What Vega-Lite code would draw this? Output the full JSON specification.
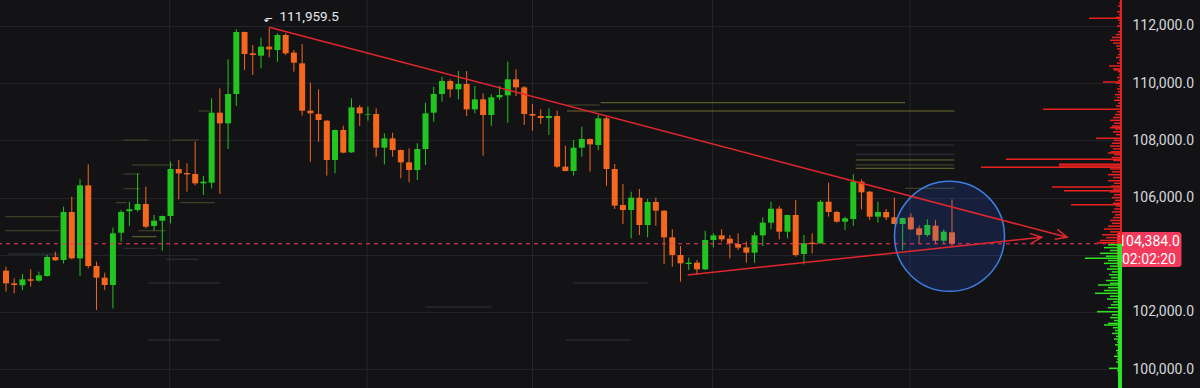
{
  "$schema": "https://vega.github.io/schema/vega-lite/v6.json",
  "width": 1122,
  "height": 388,
  "autosize": {"type": "none"},
  "padding": {"left": 0, "top": 0, "right": 78, "bottom": 0},
  "background": "#131316",
  "config": {"view": {"stroke": null}, "font": "Roboto"},
  "resolve": {"scale": {"x": "independent"}},
  "layer": [
    {
      "layer": [
        {
          "data": {"values": [{"t": 20.9}, {"t": 44.9}, {"t": 65}, {"t": 86.9}, {"t": 110.9}]},
          "mark": {"type": "rule", "color": "#25272c", "strokeWidth": 1},
          "encoding": {"x": {"field": "t", "type": "quantitative", "scale": {"domain": [0.88, 136.06], "nice": false, "zero": false}, "axis": null}}
        },
        {
          "data": {"values": [
            {"p": 109318, "t1": 73.3, "t2": 110.3, "k": "o"},
            {"p": 109027, "t1": 69.2, "t2": 116.3, "k": "o"},
            {"p": 109237, "t1": 69.2, "t2": 73.2, "k": "d"},
            {"p": 107839, "t1": 104.3, "t2": 116.3, "k": "g"},
            {"p": 107513, "t1": 104.3, "t2": 116.3, "k": "g"},
            {"p": 107314, "t1": 104.3, "t2": 116.3, "k": "o"},
            {"p": 107139, "t1": 104.3, "t2": 116.3, "k": "d"},
            {"p": 107024, "t1": 104.3, "t2": 116.3, "k": "o"},
            {"p": 106325, "t1": 110.3, "t2": 116.3, "k": "d"},
            {"p": 108013, "t1": 15.3, "t2": 18.3, "k": "d"},
            {"p": 108013, "t1": 21.2, "t2": 24.4, "k": "d"},
            {"p": 107139, "t1": 16.3, "t2": 21.4, "k": "d"},
            {"p": 106824, "t1": 15.3, "t2": 17.3, "k": "d"},
            {"p": 106310, "t1": 15.3, "t2": 17.3, "k": "d"},
            {"p": 105821, "t1": 14.4, "t2": 15.7, "k": "d"},
            {"p": 105821, "t1": 22.2, "t2": 26.4, "k": "d"},
            {"p": 105331, "t1": 0.9, "t2": 7.5, "k": "d"},
            {"p": 104842, "t1": 0.9, "t2": 7.5, "k": "d"},
            {"p": 104842, "t1": 17.1, "t2": 20.4, "k": "d"},
            {"p": 104632, "t1": 16.3, "t2": 19.3, "k": "o"},
            {"p": 104226, "t1": 15.3, "t2": 19.3, "k": "g"},
            {"p": 103842, "t1": 20.4, "t2": 24.4, "k": "g"},
            {"p": 109027, "t1": 24.4, "t2": 25.8, "k": "d"},
            {"p": 103013, "t1": 70, "t2": 79, "k": "g"},
            {"p": 102174, "t1": 52, "t2": 60, "k": "g"},
            {"p": 101020, "t1": 69, "t2": 77, "k": "g"},
            {"p": 103013, "t1": 18.3, "t2": 27, "k": "g"},
            {"p": 101020, "t1": 18.3, "t2": 27, "k": "g"},
            {"p": 104027, "t1": 1.2, "t2": 7.5, "k": "g"}
          ]},
          "mark": {"type": "rule", "strokeWidth": 1},
          "encoding": {
            "x": {"field": "t1", "type": "quantitative", "scale": {"domain": [0.88, 136.06], "nice": false, "zero": false}, "axis": null},
            "x2": {"field": "t2"},
            "y": {"field": "p", "type": "quantitative", "scale": {"domain": [99341, 112909], "nice": false, "zero": false},
              "axis": {"orient": "right", "values": [100000, 102000, 104000, 106000, 108000, 110000, 112000], "format": ",.1f", "labelExpr": "datum.value == 104000 ? '' : datum.label", "grid": true, "gridColor": "#232429", "gridWidth": 1, "domain": false, "ticks": false, "labelPadding": 10, "labelFont": "Roboto", "labelFontSize": 14, "labelColor": "#D6D8DE", "title": null}},
            "color": {"field": "k", "type": "nominal", "scale": {"domain": ["o", "d", "g"], "range": ["#6e6c30", "#4a4a2a", "#33353b"]}, "legend": null}
          }
        },
        {
          "data": {"name": "candles", "values": [
            {"t":1,"o":103443,"h":103583,"l":102709,"c":103000},
            {"t":2,"o":103000,"h":103175,"l":102651,"c":102942},
            {"t":3,"o":102931,"h":103327,"l":102767,"c":103140},
            {"t":4,"o":103140,"h":103490,"l":102884,"c":103094},
            {"t":5,"o":103094,"h":103409,"l":103059,"c":103280},
            {"t":6,"o":103257,"h":103991,"l":103240,"c":103921},
            {"t":7,"o":103921,"h":104108,"l":103790,"c":103805},
            {"t":8,"o":103816,"h":105682,"l":103700,"c":105495},
            {"t":9,"o":105495,"h":106031,"l":103840,"c":103875},
            {"t":10,"o":103875,"h":106637,"l":103257,"c":106428},
            {"t":11,"o":106428,"h":107162,"l":103525,"c":103607},
            {"t":12,"o":103607,"h":103758,"l":102068,"c":103199},
            {"t":13,"o":103199,"h":103374,"l":102767,"c":102942},
            {"t":14,"o":102942,"h":104947,"l":102126,"c":104749},
            {"t":15,"o":104772,"h":105565,"l":104458,"c":105495},
            {"t":16,"o":105518,"h":105856,"l":105006,"c":105588},
            {"t":17,"o":105565,"h":106847,"l":105507,"c":105775},
            {"t":18,"o":105775,"h":106381,"l":104924,"c":104982},
            {"t":19,"o":105006,"h":105390,"l":104842,"c":105192},
            {"t":20,"o":105192,"h":105370,"l":104143,"c":105355},
            {"t":21,"o":105355,"h":107255,"l":105099,"c":106999},
            {"t":22,"o":106999,"h":107314,"l":105938,"c":106847},
            {"t":23,"o":106859,"h":107197,"l":106206,"c":106812},
            {"t":24,"o":106824,"h":107955,"l":106428,"c":106498},
            {"t":25,"o":106498,"h":106754,"l":106090,"c":106556},
            {"t":26,"o":106521,"h":109470,"l":106323,"c":108969},
            {"t":27,"o":108969,"h":109820,"l":106125,"c":108596},
            {"t":28,"o":108596,"h":110834,"l":107698,"c":109622},
            {"t":29,"o":109622,"h":111883,"l":109202,"c":111790},
            {"t":30,"o":111790,"h":111800,"l":110461,"c":111021},
            {"t":31,"o":111044,"h":111335,"l":110286,"c":110986},
            {"t":32,"o":110962,"h":111592,"l":110519,"c":111277},
            {"t":33,"o":111277,"h":111959.5,"l":110904,"c":111184},
            {"t":34,"o":111160,"h":111743,"l":110752,"c":111685},
            {"t":35,"o":111685,"h":111743,"l":110986,"c":111044},
            {"t":36,"o":111067,"h":111160,"l":110403,"c":110717},
            {"t":37,"o":110694,"h":111370,"l":108864,"c":109039},
            {"t":38,"o":109039,"h":110018,"l":107255,"c":108946},
            {"t":39,"o":108922,"h":109785,"l":107955,"c":108712},
            {"t":40,"o":108689,"h":108712,"l":106766,"c":107314},
            {"t":41,"o":107314,"h":108380,"l":106847,"c":108363},
            {"t":42,"o":108363,"h":108514,"l":107547,"c":107570},
            {"t":43,"o":107582,"h":109470,"l":107560,"c":109155},
            {"t":44,"o":109155,"h":109237,"l":108503,"c":108946},
            {"t":45,"o":108887,"h":109179,"l":108689,"c":108911},
            {"t":46,"o":108922,"h":109120,"l":107430,"c":107745},
            {"t":47,"o":107745,"h":108246,"l":107162,"c":108071},
            {"t":48,"o":108071,"h":108269,"l":107430,"c":107663},
            {"t":49,"o":107663,"h":107680,"l":106672,"c":107232},
            {"t":50,"o":107232,"h":107722,"l":106533,"c":106964},
            {"t":51,"o":106964,"h":107896,"l":106614,"c":107698},
            {"t":52,"o":107698,"h":109319,"l":107139,"c":108946},
            {"t":53,"o":108969,"h":109878,"l":108654,"c":109622},
            {"t":54,"o":109622,"h":110228,"l":109354,"c":110076},
            {"t":55,"o":110076,"h":110135,"l":109505,"c":109785},
            {"t":56,"o":109785,"h":110426,"l":109435,"c":109971},
            {"t":57,"o":109971,"h":110426,"l":108852,"c":109085},
            {"t":58,"o":109085,"h":109901,"l":108946,"c":109435},
            {"t":59,"o":109435,"h":109645,"l":107465,"c":108887},
            {"t":60,"o":108887,"h":109610,"l":108503,"c":109505},
            {"t":61,"o":109505,"h":109901,"l":109412,"c":109587},
            {"t":62,"o":109575,"h":110752,"l":108619,"c":110135},
            {"t":63,"o":110135,"h":110484,"l":109552,"c":109855},
            {"t":64,"o":109855,"h":109901,"l":108538,"c":108922},
            {"t":65,"o":108922,"h":109272,"l":108339,"c":108864},
            {"t":66,"o":108852,"h":109085,"l":108573,"c":108782},
            {"t":67,"o":108782,"h":109120,"l":108188,"c":108852},
            {"t":68,"o":108852,"h":109039,"l":107045,"c":107080},
            {"t":69,"o":107080,"h":107815,"l":106920,"c":106929},
            {"t":70,"o":106929,"h":108013,"l":106766,"c":107745},
            {"t":71,"o":107745,"h":108479,"l":107430,"c":108048},
            {"t":72,"o":108048,"h":108070,"l":106906,"c":107861},
            {"t":73,"o":107838,"h":108887,"l":107663,"c":108771},
            {"t":74,"o":108771,"h":108829,"l":106416,"c":106999},
            {"t":75,"o":106999,"h":107174,"l":105600,"c":105717},
            {"t":76,"o":105740,"h":106474,"l":105075,"c":105565},
            {"t":77,"o":105565,"h":106206,"l":104574,"c":105996},
            {"t":78,"o":105996,"h":106299,"l":104691,"c":105040},
            {"t":79,"o":105040,"h":105950,"l":104609,"c":105845},
            {"t":80,"o":105845,"h":105996,"l":105017,"c":105542},
            {"t":81,"o":105542,"h":105565,"l":103677,"c":104609},
            {"t":82,"o":104609,"h":104889,"l":103583,"c":103991},
            {"t":83,"o":103991,"h":104306,"l":103059,"c":103700},
            {"t":84,"o":103677,"h":103898,"l":103467,"c":103723},
            {"t":85,"o":103723,"h":103816,"l":103292,"c":103490},
            {"t":86,"o":103490,"h":104842,"l":103467,"c":104516},
            {"t":87,"o":104516,"h":104749,"l":104259,"c":104679},
            {"t":88,"o":104679,"h":104889,"l":104458,"c":104539},
            {"t":89,"o":104563,"h":104691,"l":103875,"c":104399},
            {"t":90,"o":104376,"h":104749,"l":104166,"c":104248},
            {"t":91,"o":104259,"h":104458,"l":103723,"c":104073},
            {"t":92,"o":104073,"h":104784,"l":103723,"c":104679},
            {"t":93,"o":104679,"h":105309,"l":104306,"c":105122},
            {"t":94,"o":105122,"h":105856,"l":104889,"c":105612},
            {"t":95,"o":105612,"h":105705,"l":104539,"c":104807},
            {"t":96,"o":104807,"h":105400,"l":104574,"c":105390},
            {"t":97,"o":105390,"h":105915,"l":103933,"c":103991},
            {"t":98,"o":104026,"h":104691,"l":103665,"c":104399},
            {"t":99,"o":104423,"h":104749,"l":104050,"c":104376},
            {"t":100,"o":104399,"h":105915,"l":104390,"c":105856},
            {"t":101,"o":105856,"h":106521,"l":105332,"c":105495},
            {"t":102,"o":105495,"h":105530,"l":105122,"c":105157},
            {"t":103,"o":105157,"h":105332,"l":104866,"c":105274},
            {"t":104,"o":105250,"h":106812,"l":105006,"c":106556},
            {"t":105,"o":106556,"h":106637,"l":105588,"c":106183},
            {"t":106,"o":106206,"h":106230,"l":105215,"c":105332},
            {"t":107,"o":105332,"h":105856,"l":105122,"c":105495},
            {"t":108,"o":105495,"h":105600,"l":105215,"c":105309},
            {"t":109,"o":105309,"h":105996,"l":105060,"c":105075},
            {"t":110,"o":105075,"h":105300,"l":104166,"c":105285},
            {"t":111,"o":105309,"h":105448,"l":104866,"c":104889},
            {"t":112,"o":104924,"h":105029,"l":104399,"c":104691},
            {"t":113,"o":104691,"h":105239,"l":104632,"c":105040},
            {"t":114,"o":105017,"h":105215,"l":104399,"c":104493},
            {"t":115,"o":104493,"h":104889,"l":104399,"c":104807},
            {"t":116,"o":104784,"h":105938,"l":104283,"c":104384}
          ]},
          "layer": [
            {
              "mark": {"type": "rule", "strokeWidth": 1},
              "encoding": {
                "x": {"field": "t", "type": "quantitative", "scale": {"domain": [0.88, 136.06], "nice": false, "zero": false}, "axis": null},
                "y": {"field": "l", "type": "quantitative", "title": null},
                "y2": {"field": "h"},
                "color": {"condition": {"test": "datum.c >= datum.o", "value": "#22c51f"}, "value": "#f5661e"}
              }
            },
            {
              "mark": {"type": "bar", "size": 6},
              "encoding": {
                "x": {"field": "t", "type": "quantitative", "scale": {"domain": [0.88, 136.06], "nice": false, "zero": false}, "axis": null},
                "y": {"field": "o", "type": "quantitative", "title": null},
                "y2": {"field": "c"},
                "color": {"condition": {"test": "datum.c >= datum.o", "value": "#22c51f"}, "value": "#f5661e"}
              }
            }
          ]
        },
        {
          "data": {"values": [{"t": 115.7, "p": 104646}]},
          "mark": {"type": "point", "shape": "circle", "size": 12100, "filled": true, "fill": "#2962ff", "fillOpacity": 0.16, "stroke": "#3d7fe0", "strokeWidth": 1.5, "strokeOpacity": 1},
          "encoding": {
            "x": {"field": "t", "type": "quantitative", "scale": {"domain": [0.88, 136.06], "nice": false, "zero": false}, "axis": null},
            "y": {"field": "p", "type": "quantitative", "title": null}
          }
        },
        {
          "data": {"values": [{"last": 104384}]},
          "mark": {"type": "rule", "color": "#f23b5c", "strokeWidth": 1, "strokeDash": [4, 4]},
          "encoding": {"y": {"field": "last", "type": "quantitative", "title": null}}
        },
        {
          "data": {"values": [
            {"g": "u", "t": 33, "p": 111959.5},
            {"g": "u", "t": 130.0, "p": 104611},
            {"g": "l", "t": 83.86, "p": 103293},
            {"g": "l", "t": 126.9, "p": 104611}
          ]},
          "mark": {"type": "line", "color": "#e3262e", "strokeWidth": 1.5},
          "encoding": {
            "x": {"field": "t", "type": "quantitative", "scale": {"domain": [0.88, 136.06], "nice": false, "zero": false}, "axis": null},
            "y": {"field": "p", "type": "quantitative", "title": null},
            "detail": {"field": "g"}
          }
        },
        {
          "data": {"values": [{"t": 130.0, "p": 104611}]},
          "mark": {"type": "point", "shape": "M-1,-0.45L0,0L-1,0.45", "size": 520, "filled": false, "color": "#e3262e", "strokeWidth": 1.5, "opacity": 1, "angle": 15},
          "encoding": {
            "x": {"field": "t", "type": "quantitative", "scale": {"domain": [0.88, 136.06], "nice": false, "zero": false}, "axis": null},
            "y": {"field": "p", "type": "quantitative", "title": null}
          }
        },
        {
          "data": {"values": [{"t": 126.9, "p": 104611}]},
          "mark": {"type": "point", "shape": "M-1,-0.45L0,0L-1,0.45", "size": 520, "filled": false, "color": "#e3262e", "strokeWidth": 1.5, "opacity": 1, "angle": 354},
          "encoding": {
            "x": {"field": "t", "type": "quantitative", "scale": {"domain": [0.88, 136.06], "nice": false, "zero": false}, "axis": null},
            "y": {"field": "p", "type": "quantitative", "title": null}
          }
        },
        {
          "data": {"values": [{"hi": 111959.5}]},
          "mark": {"type": "text", "align": "left", "baseline": "middle", "font": "Roboto", "fontSize": 13.5, "color": "#e6e8ee"},
          "encoding": {
            "x": {"datum": 34.25, "type": "quantitative", "scale": {"domain": [0.88, 136.06], "nice": false, "zero": false}, "axis": null},
            "y": {"datum": 112315, "type": "quantitative"},
            "text": {"field": "hi", "type": "quantitative", "format": ",.1f"}
          }
        },
        {
          "data": {"values": [{"s": "⬐"}]},
          "mark": {"type": "text", "align": "center", "baseline": "middle", "font": "DejaVu Sans", "fontSize": 11, "color": "#e6e8ee"},
          "encoding": {
            "x": {"datum": 32.9, "type": "quantitative", "scale": {"domain": [0.88, 136.06], "nice": false, "zero": false}, "axis": null},
            "y": {"datum": 112230, "type": "quantitative"},
            "text": {"field": "s"}
          }
        },
        {
          "data": {"values": [{}]},
          "mark": {"type": "rect", "color": "#f23b5c", "cornerRadius": 3},
          "encoding": {
            "x": {"datum": 136.06, "type": "quantitative", "scale": {"domain": [0.88, 136.06], "nice": false, "zero": false}, "axis": null},
            "x2": {"datum": 143.9},
            "y": {"datum": 104796, "type": "quantitative"},
            "y2": {"datum": 103572}
          }
        },
        {
          "data": {"values": [{"last": 104384}]},
          "mark": {"type": "text", "align": "center", "baseline": "middle", "font": "Roboto", "fontSize": 14, "color": "#ffffff"},
          "encoding": {
            "x": {"datum": 139.95, "type": "quantitative", "scale": {"domain": [0.88, 136.06], "nice": false, "zero": false}, "axis": null},
            "y": {"datum": 104440, "type": "quantitative"},
            "text": {"field": "last", "type": "quantitative", "format": ",.1f"}
          }
        },
        {
          "data": {"values": [{"s": "02:02:20"}]},
          "mark": {"type": "text", "align": "center", "baseline": "middle", "font": "Roboto", "fontSize": 14, "color": "#ffffff"},
          "encoding": {
            "x": {"datum": 139.95, "type": "quantitative", "scale": {"domain": [0.88, 136.06], "nice": false, "zero": false}, "axis": null},
            "y": {"datum": 103800, "type": "quantitative"},
            "text": {"field": "s"}
          }
        }
      ]
    },
    {
      "layer": [
        {
          "data": {"values": [
            {"p":112800,"v":3},{"p":112700,"v":4},{"p":112600,"v":2},{"p":112500,"v":5},{"p":112400,"v":3},{"p":112300,"v":6},{"p":112269,"v":33},{"p":112200,"v":4},{"p":112100,"v":3},{"p":112000,"v":5},
            {"p":111900,"v":2},{"p":111800,"v":4},{"p":111700,"v":6},{"p":111600,"v":10},{"p":111500,"v":12},{"p":111400,"v":9},{"p":111300,"v":6},{"p":111200,"v":5},{"p":111100,"v":3},{"p":111000,"v":4},
            {"p":110900,"v":6},{"p":110800,"v":3},{"p":110700,"v":5},{"p":110601,"v":13},{"p":110500,"v":9},{"p":110461,"v":8},{"p":110400,"v":4},{"p":110300,"v":3},{"p":110200,"v":5},{"p":110100,"v":4},
            {"p":110042,"v":19},{"p":110000,"v":6},{"p":109900,"v":3},{"p":109800,"v":5},{"p":109700,"v":4},{"p":109600,"v":7},{"p":109500,"v":5},{"p":109400,"v":8},{"p":109300,"v":4},{"p":109200,"v":6},
            {"p":109087,"v":79},{"p":109000,"v":5},{"p":108900,"v":7},{"p":108800,"v":9},{"p":108700,"v":12},{"p":108600,"v":8},{"p":108500,"v":10},{"p":108444,"v":12},{"p":108400,"v":7},{"p":108300,"v":9},
            {"p":108200,"v":6},{"p":108073,"v":26},{"p":108000,"v":8},{"p":107900,"v":10},{"p":107800,"v":12},{"p":107700,"v":9},{"p":107600,"v":11},{"p":107559,"v":14},{"p":107500,"v":8},{"p":107400,"v":10},
            {"p":107338,"v":116},{"p":107300,"v":9},{"p":107163,"v":63},{"p":107104,"v":63},{"p":107059,"v":141},{"p":107000,"v":12},{"p":106900,"v":10},{"p":106800,"v":14},{"p":106700,"v":9},{"p":106590,"v":14},
            {"p":106500,"v":8},{"p":106400,"v":11},{"p":106370,"v":70},{"p":106300,"v":9},{"p":106240,"v":58},{"p":106200,"v":12},{"p":106100,"v":8},{"p":106000,"v":10},{"p":105900,"v":7},{"p":105800,"v":9},
            {"p":105751,"v":51},{"p":105700,"v":6},{"p":105600,"v":8},{"p":105500,"v":10},{"p":105400,"v":7},{"p":105300,"v":9},{"p":105200,"v":12},{"p":105100,"v":10},{"p":105000,"v":14},{"p":104900,"v":18},
            {"p":104800,"v":12},{"p":104700,"v":20},{"p":104600,"v":16},{"p":104500,"v":22},{"p":104420,"v":25},
            {"p":104350,"v":14},{"p":104250,"v":18},{"p":104150,"v":12},{"p":104051,"v":22},{"p":103950,"v":16},{"p":103876,"v":37},{"p":103800,"v":14},{"p":103700,"v":18},{"p":103600,"v":12},{"p":103500,"v":15},
            {"p":103400,"v":10},{"p":103300,"v":13},{"p":103200,"v":11},{"p":103100,"v":16},{"p":103000,"v":12},{"p":102943,"v":24},{"p":102850,"v":14},{"p":102750,"v":18},{"p":102652,"v":27},{"p":102550,"v":12},
            {"p":102450,"v":15},{"p":102350,"v":9},{"p":102250,"v":11},{"p":102150,"v":14},{"p":102009,"v":25},{"p":101900,"v":10},{"p":101800,"v":12},{"p":101700,"v":8},{"p":101600,"v":14},{"p":101544,"v":18},
            {"p":101450,"v":9},{"p":101350,"v":7},{"p":101250,"v":10},{"p":101150,"v":6},{"p":101050,"v":8},{"p":100950,"v":5},{"p":100850,"v":7},{"p":100750,"v":4},{"p":100650,"v":6},{"p":100550,"v":5},
            {"p":100450,"v":8},{"p":100350,"v":5},{"p":100250,"v":6},{"p":100150,"v":4},{"p":100030,"v":13},{"p":99950,"v":5},{"p":99850,"v":3},{"p":99750,"v":4},{"p":99650,"v":3},{"p":99550,"v":2},{"p":99450,"v":3}
          ]},
          "mark": {"type": "rule", "strokeWidth": 1.5},
          "encoding": {
            "x": {"field": "v", "type": "quantitative", "scale": {"domain": [0, 1122], "reverse": true, "nice": false, "zero": false}, "axis": null},
            "x2": {"datum": 0},
            "y": {"field": "p", "type": "quantitative", "title": null},
            "color": {"condition": {"test": "datum.p > 104384", "value": "#e8221e"}, "value": "#2ee31f"}
          }
        },
        {
          "data": {"values": [
            {"lo": 104384, "hi": 112909, "w": 2},
            {"lo": 99341, "hi": 104384, "w": 4}
          ]},
          "mark": {"type": "rect"},
          "encoding": {
            "x": {"field": "w", "type": "quantitative", "scale": {"domain": [0, 1122], "reverse": true, "nice": false, "zero": false}, "axis": null},
            "x2": {"datum": 0},
            "y": {"field": "lo", "type": "quantitative", "title": null},
            "y2": {"field": "hi"},
            "color": {"condition": {"test": "datum.hi > 104384.5", "value": "#e8221e"}, "value": "#2ee31f"}
          }
        }
      ]
    }
  ]
}
